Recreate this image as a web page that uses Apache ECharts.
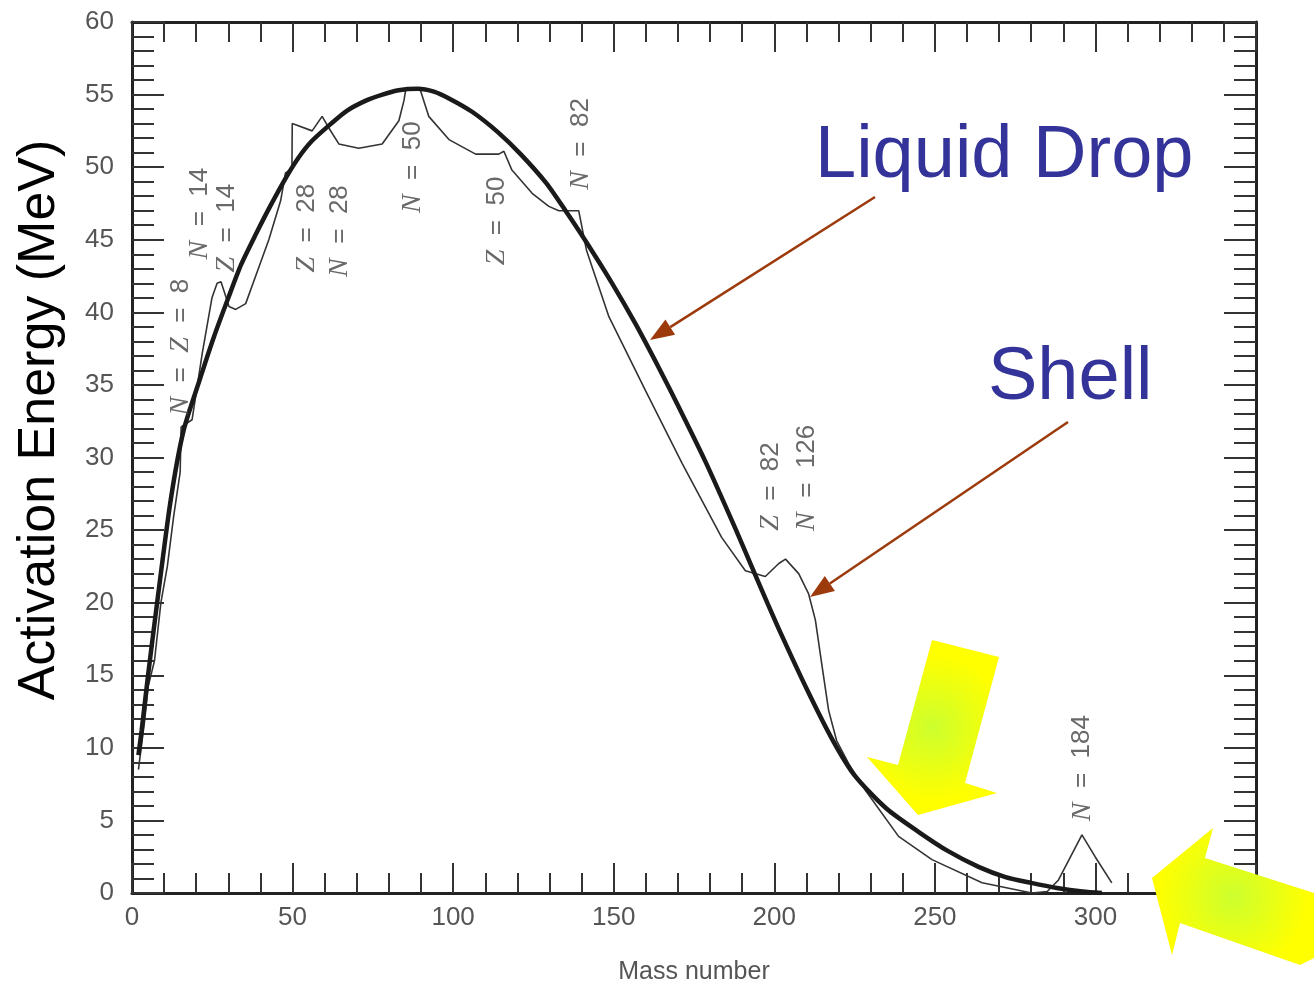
<!DOCTYPE html>
<html>
<head>
<meta charset="utf-8">
<script src="https://cdn.jsdelivr.net/npm/echarts@6/dist/echarts.min.js"></script>
<style>
html, body { margin: 0; padding: 0; background: #fff; }
#main { width: 1314px; height: 985px; }
</style>
</head>
<body>
<div id="main"></div>
<script>
// liquid drop barrier (thick curve)
var dropX = [2, 3, 5, 8, 12, 16, 21, 25.5, 30, 34, 38.6, 43, 48, 52, 56, 62, 67, 73, 78, 83, 89, 94, 99, 106, 114, 121, 129, 135, 141, 149.5, 156.8, 164, 170.2, 178.6, 187.9, 194.1, 198, 202, 210, 218, 225, 235, 245, 254, 263.6, 272, 280, 288, 296, 302];
var dropY = [9.5, 11.2, 15, 20.3, 27, 31.8, 35.3, 38.3, 41.0, 43.3, 45.4, 47.3, 49.3, 50.7, 51.8, 53.0, 53.9, 54.6, 55.0, 55.3, 55.4, 55.2, 54.7, 53.8, 52.4, 50.9, 48.9, 47.0, 45.0, 42.0, 39.2, 36.2, 33.5, 29.7, 25.1, 21.9, 19.9, 17.9, 14.1, 10.6, 8.1, 5.8, 4.2, 2.9, 1.8, 1.1, 0.7, 0.35, 0.1, 0];

// barrier with shell correction (thin curve)
var shellX = [2, 4, 5, 7, 9, 11, 13, 15, 15.3, 18.7, 21.9, 24.9, 26.5, 27.7, 28.6, 30.2, 32.3, 35.4, 39.5, 42.6, 46.3, 47.8, 49.8, 49.9, 56.1, 59.2, 61.3, 64.4, 70.6, 77.9, 83.1, 84.7, 85.2, 89.8, 92.4, 98.7, 107, 114.2, 115.8, 118.3, 124.6, 129.8, 132.9, 139.1, 141.5, 143.3, 148.5, 159.9, 171.3, 183.6, 191, 197.2, 201.4, 203.5, 207.6, 210.7, 212.8, 214.9, 216.9, 219.4, 223.2, 228.3, 238.7, 249.1, 264.7, 280.2, 285, 288.5, 295.8, 299.9, 305.1];
var shellY = [8.5, 12, 14.2, 16, 20, 22.5, 26, 29, 32.1, 32.6, 37.2, 41, 42, 42.1, 41.5, 40.4, 40.2, 40.6, 43.1, 45, 47.7, 49.6, 49.9, 53, 52.5, 53.5, 52.7, 51.6, 51.3, 51.6, 53.2, 54.6, 55.3, 55.3, 53.5, 51.9, 50.9, 50.9, 51.1, 49.8, 48.2, 47.3, 47, 47, 44.3, 43.1, 39.7, 34.6, 29.6, 24.5, 22.2, 21.8, 22.7, 23, 22, 20.6, 18.8, 15.6, 12.6, 10.5, 8.9, 7.1, 3.9, 2.3, 0.7, 0, 0.1, 0.9, 4, 2.5, 0.7];

// magic number notes along the curves
var noteText = ['N = Z = 8', 'N = 14', 'Z = 14', 'Z = 28', 'N = 28', 'N = 50', 'Z = 50', 'N = 82', 'Z = 82', 'N = 126', 'N = 184'];
var noteX = [15.3, 21.0, 29.6, 54.5, 64.8, 87.5, 113.7, 139.8, 199, 210.2, 295.9];
var noteY = [37.6, 46.8, 45.8, 45.8, 45.6, 50.0, 46.3, 51.6, 28.0, 28.6, 8.6];

var chart = echarts.init(document.getElementById('main'));

function pairs(xs, ys) {
    return xs.map(function(x, i) {
        return [x, ys[i]];
    });
}

// brown pointer arrow: line plus a triangle head
function pointer(x1, y1, x2, y2) {
    var color = '#9c3a0c';
    var dx = x2 - x1, dy = y2 - y1;
    var len = Math.sqrt(dx * dx + dy * dy);
    var ux = dx / len, uy = dy / len;
    var hl = 24, hw = 9;
    var bx = x2 - ux * hl, by = y2 - uy * hl;
    return [{
        type: 'line',
        shape: { x1: x1, y1: y1, x2: bx, y2: by },
        style: { stroke: color, lineWidth: 2.5 },
        z: 100
    }, {
        type: 'polygon',
        shape: { points: [[x2, y2], [bx - uy * hw, by + ux * hw], [bx + uy * hw, by - ux * hw]] },
        style: { fill: color },
        z: 100
    }];
}

var yellowFill = {
    type: 'radial', x: 0.5, y: 0.5, r: 0.55,
    colorStops: [{ offset: 0, color: '#ccff2e' }, { offset: 1, color: '#ffff00' }]
};

var tickStyle = { color: '#333', width: 2 };
var frameStyle = { color: '#222', width: 3 };

function xAxisOf(pos, labels) {
    return {
        type: 'value',
        position: pos,
        min: 0,
        max: 350,
        interval: 50,
        axisLine: { show: true, onZero: false, lineStyle: frameStyle },
        axisTick: { show: true, inside: true, length: 30, lineStyle: tickStyle },
        minorTick: { show: true, splitNumber: 5, length: 20, lineStyle: tickStyle },
        splitLine: { show: false },
        axisLabel: {
            show: labels,
            showMaxLabel: false,
            margin: 12,
            color: '#555',
            fontSize: 26,
            fontFamily: 'Liberation Sans'
        }
    };
}

function yAxisOf(pos, labels) {
    return {
        type: 'value',
        position: pos,
        min: 0,
        max: 60,
        interval: 5,
        axisLine: { show: true, onZero: false, lineStyle: frameStyle },
        axisTick: { show: true, inside: true, length: 32, lineStyle: tickStyle },
        minorTick: { show: true, splitNumber: 5, length: 22, lineStyle: tickStyle },
        splitLine: { show: false },
        axisLabel: {
            show: labels,
            margin: 18,
            color: '#555',
            fontSize: 26,
            fontFamily: 'Liberation Sans'
        }
    };
}

var bottomAxis = xAxisOf('bottom', true);
bottomAxis.name = 'Mass number';
bottomAxis.nameLocation = 'middle';
bottomAxis.nameGap = 67;
bottomAxis.nameTextStyle = { color: '#555', fontSize: 25, fontFamily: 'Liberation Sans' };

var graphics = [{
    type: 'text',
    x: 40,
    y: 420,
    rotation: Math.PI / 2,
    style: {
        text: 'Activation Energy (MeV)',
        font: '52px "Liberation Sans"',
        fill: '#000',
        textAlign: 'center',
        textVerticalAlign: 'middle',
        verticalAlign: 'middle'
    }
}, {
    type: 'text',
    x: 815,
    y: 157,
    style: {
        text: 'Liquid Drop',
        font: '74px "Liberation Sans"',
        fill: '#333399',
        textAlign: 'left',
        textVerticalAlign: 'middle',
        verticalAlign: 'middle'
    },
    z: 100
}, {
    type: 'text',
    x: 988,
    y: 379,
    style: {
        text: 'Shell',
        font: '74px "Liberation Sans"',
        fill: '#333399',
        textAlign: 'left',
        textVerticalAlign: 'middle',
        verticalAlign: 'middle'
    },
    z: 100
}, {
    type: 'polygon',
    shape: { points: [[932, 640], [999, 657], [965, 783], [997, 793], [918, 815], [867, 757], [898, 765]] },
    style: { fill: yellowFill },
    z: 100
}, {
    type: 'polygon',
    shape: { points: [[1152, 878], [1213, 828], [1205, 858], [1314, 893], [1314, 958], [1300, 965], [1180, 923], [1172, 955]] },
    style: { fill: yellowFill },
    z: 100
}].concat(pointer(875, 197, 650, 340), pointer(1068, 422, 810, 597));

var options = {
    animation: false,
    backgroundColor: '#fff',
    grid: { left: 132, right: 58, top: 22, bottom: 92, outerBoundsMode: 'none' },
    xAxis: [bottomAxis, xAxisOf('top', false)],
    yAxis: [yAxisOf('left', true), yAxisOf('right', false)],
    series: [{
        name: 'Shell',
        type: 'line',
        data: pairs(shellX, shellY),
        symbol: 'none',
        lineStyle: { color: '#333', width: 1.6 },
        z: 2
    }, {
        name: 'Liquid Drop',
        type: 'line',
        data: pairs(dropX, dropY),
        smooth: 0.25,
        symbol: 'none',
        lineStyle: { color: '#1a1a1a', width: 4.5 },
        z: 3
    }, {
        name: 'notes',
        type: 'scatter',
        symbolSize: 0,
        data: noteX.map(function(x, i) {
            return { value: [x, noteY[i]], name: noteText[i] };
        }),
        label: {
            show: true,
            position: 'inside',
            rotate: 90,
            color: '#444',
            fontSize: 26,
            fontFamily: 'Liberation Sans',
            formatter: function(p) {
                return p.name.replace(/ = /g, '  =  ').replace(/([NZ])/g, '{i|$1}');
            },
            rich: {
                i: { fontFamily: 'Liberation Serif', fontStyle: 'italic', fontSize: 28, color: '#444' }
            }
        },
        z: 4
    }],
    graphic: graphics
};

chart.setOption(options);
</script>
</body>
</html>
